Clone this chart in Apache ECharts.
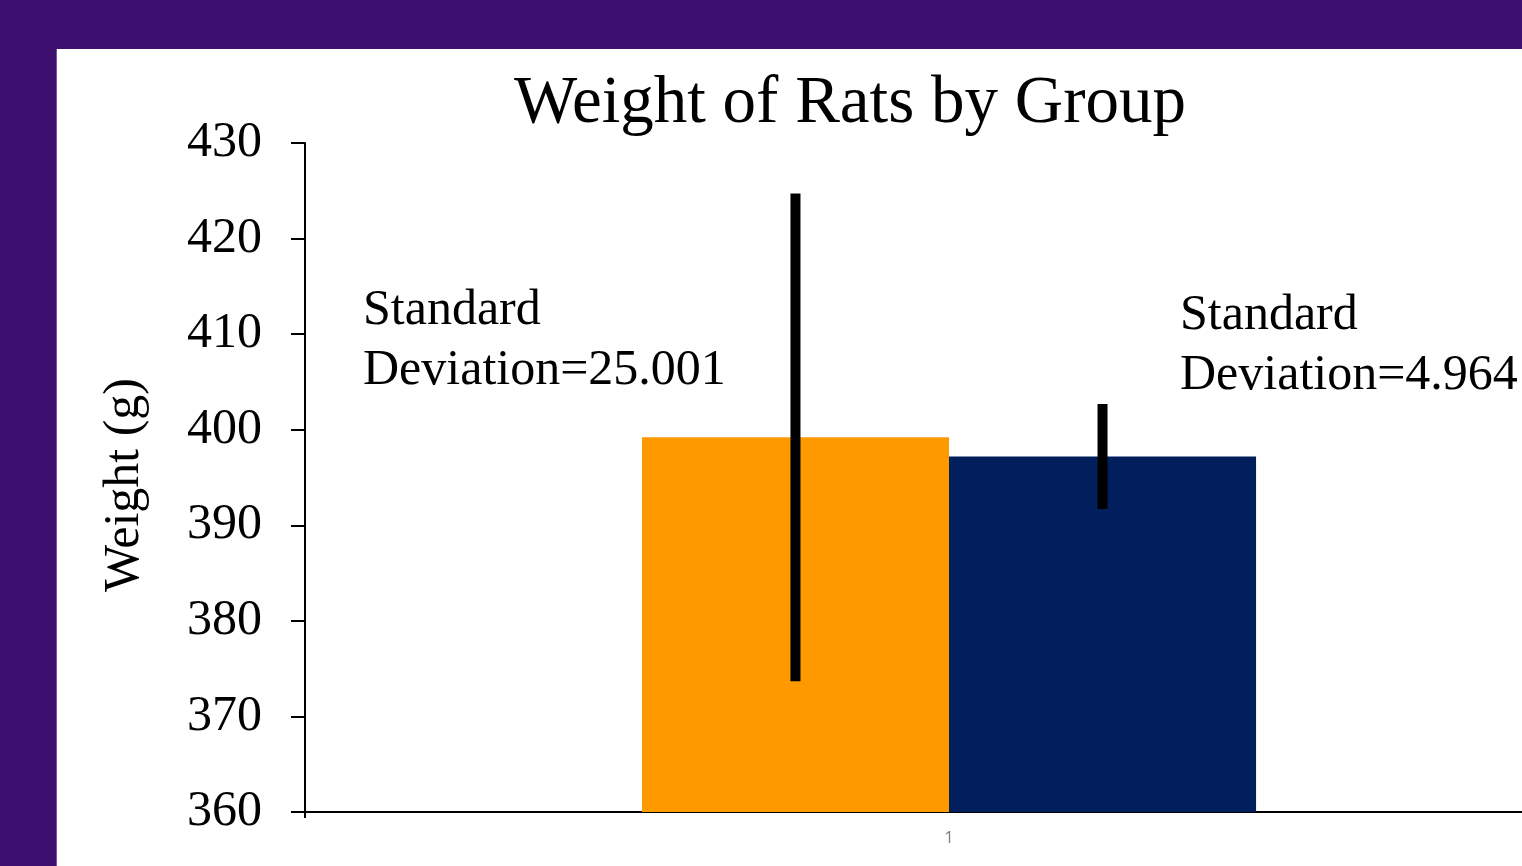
<!DOCTYPE html>
<html>
<head>
<meta charset="utf-8">
<script src="https://cdn.jsdelivr.net/npm/echarts@6/dist/echarts.min.js"></script>
<style>
html,body{margin:0;padding:0;background:#3d0f6e;overflow:hidden;width:1522px;height:866px;}
#chart{width:1600px;height:866px;}
</style>
</head>
<body>
<div id="chart"></div>
<script>
// ---- data ----
const categories = ['1'];
const groupNames = ['Group 1', 'Group 2'];
const means = [399.2, 397.2];
const stdDevs = [25.001, 4.964];
const sdLabels = ['Standard\nDeviation=25.001', 'Standard\nDeviation=4.964'];
const yMin = 360, yMax = 430, yStep = 10;
const barColors = ['#ff9900', '#001f5c'];

const SERIF = '"Liberation Serif","Times New Roman",serif';
const BAR_FRAC = 0.2384; // bar width as fraction of the category band

const chart = echarts.init(document.getElementById('chart'));

const barSeries = groupNames.map((name, i) => ({
  name: name,
  type: 'bar',
  data: [means[i]],
  barWidth: (BAR_FRAC * 100) + '%',
  barGap: '0%',
  itemStyle: { color: barColors[i] },
  z: 2
}));

const errData = groupNames.map((name, i) => [0, means[i] - stdDevs[i], means[i] + stdDevs[i], i]);

const errSeries = {
  type: 'custom',
  z: 5,
  data: errData,
  encode: { x: 0, y: [1, 2] },
  renderItem: function (params, api) {
    const idx = api.value(3);
    const band = api.size([1, 0])[0];
    const offset = (idx === 0 ? -1 : 1) * band * BAR_FRAC / 2;
    const lo = api.coord([api.value(0), api.value(1)]);
    const hi = api.coord([api.value(0), api.value(2)]);
    return {
      type: 'line',
      shape: { x1: lo[0] + offset, y1: lo[1], x2: hi[0] + offset, y2: hi[1] },
      style: { stroke: '#000', lineWidth: 10, lineCap: 'square' }
    };
  }
};

const option = {
  backgroundColor: '#3d0f6e',
  animation: false,
  graphic: [
    { type: 'rect', z: -10, shape: { x: 56, y: 49, width: 1560, height: 820 }, style: { fill: '#7d4fb0' } },
    { type: 'rect', z: -9, shape: { x: 57, y: 49, width: 1560, height: 820 }, style: { fill: '#ffffff' } },
    { type: 'text', left: 363, top: 281, z: 10,
      style: { text: sdLabels[0], font: '50px ' + SERIF, fill: '#000', lineHeight: 60 } },
    { type: 'text', left: 1180, top: 286, z: 10,
      style: { text: sdLabels[1], font: '50px ' + SERIF, fill: '#000', lineHeight: 60 } },
    { type: 'text', x: 125, y: 485, rotation: Math.PI / 2, z: 10,
      style: { text: 'Weight (g)', font: '50px ' + SERIF, fill: '#000', textAlign: 'center', textVerticalAlign: 'middle' } }
  ],
  title: {
    text: 'Weight of Rats by Group',
    left: 845, top: 66, textAlign: 'center',
    textStyle: { fontFamily: SERIF, fontSize: 67, fontWeight: 'normal', color: '#000' }
  },
  grid: { left: 305, top: 143, right: 7, bottom: 54, containLabel: false },
  xAxis: {
    type: 'category',
    data: categories,
    axisLine: { lineStyle: { color: '#000', width: 2 } },
    axisTick: { show: true, length: 6, lineStyle: { color: '#000', width: 2 } },
    axisLabel: { color: '#7a7a7a', fontSize: 16, margin: 18, fontFamily: '"Open Sans",sans-serif' }
  },
  yAxis: {
    type: 'value',
    min: yMin, max: yMax, interval: yStep,
    splitLine: { show: false },
    axisLine: { show: true, lineStyle: { color: '#000', width: 2 } },
    axisTick: { show: true, length: 14, lineStyle: { color: '#000', width: 2 } },
    axisLabel: { color: '#000', fontFamily: SERIF, fontSize: 50, margin: 43 }
  },
  series: [...barSeries, errSeries]
};

chart.setOption(option);
</script>
</body>
</html>
